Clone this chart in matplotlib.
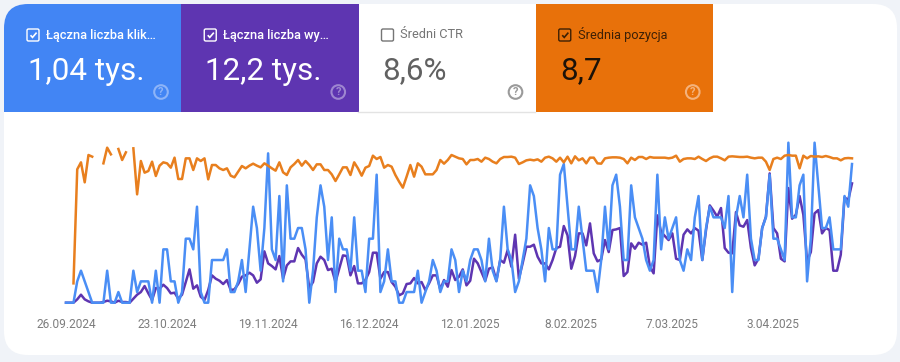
import numpy as np
import matplotlib
matplotlib.use("Agg")
import matplotlib.pyplot as plt
from matplotlib.patches import FancyBboxPatch, Rectangle, Circle, PathPatch
from matplotlib.path import Path

nan = np.nan

tick_labels = ["26.09.2024", "23.10.2024", "19.11.2024", "16.12.2024",
               "12.01.2025", "8.02.2025", "7.03.2025", "3.04.2025"]
tick_days = [0, 27, 54, 81, 108, 135, 162, 189]

# klikniecia
clicks = [0, 0, 0, 2, 3, 2, 1, 0, 0, 0, 0, 3, 0, 0, 1, 0, 0, 0, 3, 1,
          2, 2, 2, 0, 3, 0, 5, 5, 2, 2, 0, 1, 6, 6, 5, 9, 1, 0, 0, 4,
          4, 4, 4, 5, 1, 1, 2, 4, 1, 5, 9, 7,
          3, 7, 14, 5, 4, 10, 2, 11, 6, 6, 7, 7, 5, 0, 3, 8, 11, 9,
          4, 8, 1, 6, 5, 5, 3, 8, 3, 3, 1, 6, 6, 12, 1, 2, 5, 2, 2, 0,
          0, 1, 1, 1, 3, 0, 1, 2, 4, 3, 1, 2, 2, 5, 4, 1,
          3, 2, 4, 5, 5, 4, 2, 6, 3, 2, 4, 9, 5, 4, 1, 2, 4, 6, 11, 10,
          7, 5, 2, 7, 5, 5, 12, 13, 9, 5, 5, 9, 6, 3, 3, 3, 1, 4, 9, 5,
          11, 12, 9, 4, 4, 11, 8, 7, 6, 4, 3, 4, 12, 5,
          8, 6, 7, 8, 4, 3, 5, 4, 8, 10, 4, 7, 9, 8, 8, 8, 7, 10, 1, 8,
          10, 8, 12, 6, 4, 4, 7, 8, 12, 6, 6, 5, 4, 15, 8, 8, 11, 12, 2, 6,
          15, 11, 7, 7, 8, 5, 5, 5, 10, 9, 13]

# wyswietlenia
impressions = [0, 0, 0, 5, 12, 5, 2, 0, 0, 0, 1, 3, 2, 0, 3, 1, 1, 0, 6, 12,
               16, 25, 14, 4, 22, 21, 27, 22, 14, 15, 6, 12, 31, 50, 21, 26, 9, 4, 19, 41,
               36, 33, 28, 34, 19, 20, 28, 39, 41, 45,
               41, 30, 35, 77, 59, 55, 50, 70, 36, 56, 62, 62, 82, 72, 65, 22, 31, 59, 69, 64,
               49, 51, 31, 51, 71, 70, 41, 55, 29, 29, 34, 46, 75, 75, 36, 46, 46, 31, 24, 11,
               14, 28, 29, 37, 29, 31, 19, 29, 41, 41, 20, 34, 24,
               49, 34, 39, 50, 26, 33, 66, 59, 46, 33, 51, 53, 33, 64, 60, 79, 54, 102, 36, 59,
               84, 84, 87, 69, 59, 59, 50, 64, 82, 84, 115, 101, 51, 70, 104, 104, 86, 119, 74, 62,
               65, 94, 76, 109, 110, 112, 40, 46, 89, 81, 90, 87, 90, 54, 44, 131, 106,
               100, 94, 104, 66, 64, 102, 110, 104, 112, 108, 64, 109, 146, 138, 129, 142, 82, 75, 74, 136,
               116, 114, 124, 82, 56, 66, 112, 129, 194, 112, 104, 66, 62, 172, 126, 132, 160, 132, 62, 76,
               134, 139, 104, 112, 109, 48, 48, 72, 158, 154, 179]

# srednia pozycja
position = [nan, nan, 44.5, 10.3, 8.2, 14.2, 6.0, 6.5, nan, nan, 8.5, 3.8, 5.8, nan, 4.2, 7.5, 5.2, nan,
            4.0, 17.8, 7.8, 11.3, 10.8, 8.0, 12.3, 9.2, 8.2, 8.5, 9.8, 6.8, 13.2, 13.2, 7.0, 7.0,
            10.5, 7.0, 7.8, 7.0, 13.3, 9.0, 9.0, 10.0, 10.5, 10.0, 12.2, 12.7, 11.0, 9.3, 10.0, 9.2,
            8.6, 9.2,
            9.7, 8.5, 9.2, 10.0, 10.7, 8.2, 11.2, 12.0, 9.7, 8.7, 7.5, 9.2, 7.8, 9.0, 10.5, 8.8,
            8.8, 10.5, 10.5, 11.8, 13.8, 11.8, 9.7, 9.7, 12.0, 8.2, 10.0, 12.2, 9.8, 9.3, 6.2, 7.2,
            6.6, 9.8, 9.0, 9.5, 12.0, 14.0, 15.8, 12.5, 9.0, 12.5, 8.5, 9.5, 11.8, 11.8, 11.8, 10.5,
            7.5, 8.6, 7.5, 6.0, 6.5, 7.0,
            7.2, 8.8, 7.5, 7.5, 7.2, 8.0, 6.8, 7.2, 8.0, 8.5, 7.2, 6.6, 6.6, 6.5, 6.8, 8.7,
            8.2, 7.6, 7.4, 7.6, 7.3, 8.0, 6.8, 6.5, 7.0, 8.0, 6.8, 8.2, 6.5, 8.5, 6.4, 7.6,
            7.0, 8.5, 6.8, 6.8, 8.5, 8.6, 7.0, 6.8, 6.7, 6.7, 6.8, 7.2, 8.5, 6.8, 7.5, 6.6,
            6.6, 7.2, 6.6, 6.8, 6.8, 6.8,
            6.8, 7.0, 6.8, 6.2, 8.0, 7.2, 7.0, 7.0, 7.2, 6.5, 7.2, 7.8, 7.0, 6.5, 6.5, 7.0,
            7.6, 6.5, 6.4, 6.5, 6.6, 6.6, 6.5, 6.8, 7.0, 6.8, 6.8, 8.0, 10.5, 7.2, 6.8, 7.2,
            6.2, 6.0, 6.2, 6.2, 10.0, 6.2, 7.0, 6.3, 6.5, 6.4, 6.6, 6.3, 6.6, 7.0, 7.0, 7.6,
            7.0, 6.9, 7.0]

card_titles = ["Łączna liczba klik…", "Łączna liczba wy…", "Średni CTR", "Średnia pozycja"]
card_values = ["1,04 tys.", "12,2 tys.", "8,6%", "8,7"]
card_colors = ["#4285f4", "#5e35b1", "#ffffff", "#e8710a"]
title_colors = ["#ffffff", "#ffffff", "#757575", "#3d2005"]
value_colors = ["#ffffff", "#ffffff", "#616161", "#1c1208"]
help_colors = ["#8db4f8", "#9e86d0", "#9a9a9a", "#f4b27c"]

W, H = 900, 362
plt.rcParams["font.family"] = ["Roboto", "DejaVu Sans"]
fig = plt.figure(figsize=(W / 100, H / 100), dpi=100, facecolor="#f0f3f8")

# warstwa z karta, pozycje w pikselach
bg = fig.add_axes([0, 0, 1, 1])
bg.set_xlim(0, W)
bg.set_ylim(H, 0)
bg.axis("off")
bg.add_patch(FancyBboxPatch((4 + 24, 4 + 24), 893 - 48, 351 - 48, boxstyle="round,pad=24,rounding_size=24",
                            fc="white", ec="none"))

for i in range(4):
    x0 = 4 + i * 177.25
    if i == 0:
        clip = FancyBboxPatch((4 + 24, 4 + 24), 400, 300, boxstyle="round,pad=24,rounding_size=24",
                              transform=bg.transData, fc="none", ec="none")
        bg.add_patch(clip)
        r = bg.add_patch(Rectangle((x0, 4), 177.25, 108, fc=card_colors[i], ec="none"))
        r.set_clip_path(clip)
    else:
        bg.add_patch(Rectangle((x0, 4), 177.25, 108, fc=card_colors[i], ec="none"))

    # checkbox
    cb_color = title_colors[i]
    bg.add_patch(FancyBboxPatch((x0 + 24, 30), 10, 10, boxstyle="round,pad=1,rounding_size=1.5",
                                fc="none", ec=cb_color, lw=1.0))
    if i != 2:
        check = Path([(x0 + 26.5, 35.2), (x0 + 28.5, 37.4), (x0 + 32.6, 32.6)])
        bg.add_patch(PathPatch(check, fc="none", ec=cb_color, lw=1.2))

    bg.text(x0 + 42, 35, card_titles[i], color=title_colors[i], fontsize=9.2,
            va="center", ha="left", fontweight="medium" if i < 2 else "normal")
    bg.text(x0 + 24, 71, card_values[i], color=value_colors[i], fontsize=22.6,
            va="center", ha="left")

    bg.add_patch(Circle((x0 + 157, 92), 6.8, fc="none", ec=help_colors[i], lw=1.5))
    bg.text(x0 + 157, 92.3, "?", color=help_colors[i], fontsize=8, ha="center", va="center",
            fontweight="bold")

bg.plot([358, 535], [111.5, 111.5], color="#e3e3e3", lw=1)

# wykres, trzy osie na tym samym miejscu
left, right, top, bottom = 66, 852, 135, 302.7
box = [left / W, 1 - bottom / H, (right - left) / W, (bottom - top) / H]
days = np.arange(len(clicks))

ax = fig.add_axes(box, facecolor="none")
ax.plot(days, impressions, color="#5e35b1", lw=1.8, solid_joinstyle="round", clip_on=False)
ax.set_xticks(tick_days)
ax.set_xticklabels(tick_labels, fontsize=8.6, color="#7d7d7d")
ax.set_ylim(0, 251.6)
ax.set_xlim(0, 210)
for s in ax.spines.values():
    s.set_visible(False)
ax.set_yticks([])
ax.tick_params(axis="x", length=0, pad=11)

ax2 = fig.add_axes(box, facecolor="none")
ax2.plot(days, clicks, color="#4a8ef5", lw=1.8, solid_joinstyle="round", clip_on=False)
ax2.set_ylim(0, 15.72)
ax2.set_xlim(0, 210)
ax2.axis("off")

ax3 = fig.add_axes(box, facecolor="none")
ax3.plot(days, position, color="#e87f1e", lw=1.8, solid_joinstyle="round", clip_on=False)
ax3.set_ylim(50.3, 0)
ax3.set_xlim(0, 210)
ax3.axis("off")

fig.savefig("out.png", dpi=100, facecolor=fig.get_facecolor())
